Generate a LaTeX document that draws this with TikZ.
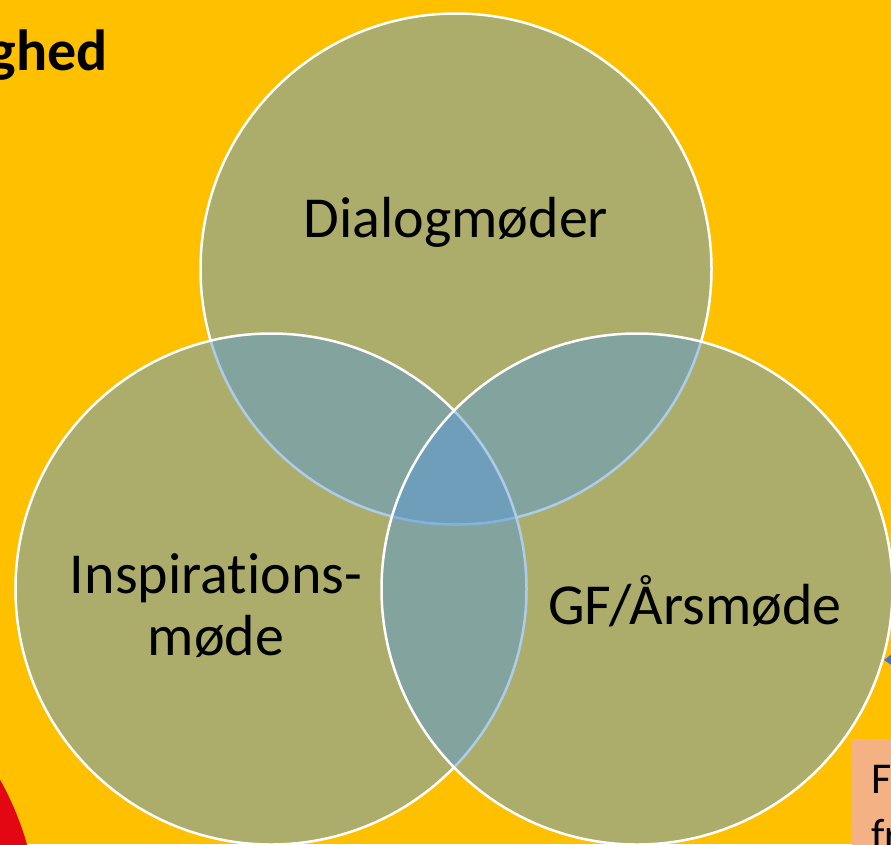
\documentclass[tikz,border=0pt]{standalone}
\usepackage{fontspec}
\setmainfont[Ligatures={TeX,NoCommon}]{Carlito}
\definecolor{bgyellow}{HTML}{FFC000}
\definecolor{vennblue}{HTML}{5B9BD5}
\definecolor{redshape}{HTML}{E30613}
\definecolor{salmon}{HTML}{F4B183}
\definecolor{arrowblue}{HTML}{4472C4}
\tikzset{
  venn/.style={circle, inner sep=0pt, minimum size=511pt, fill=vennblue, fill opacity=0.5, draw=white, draw opacity=1, line width=2.5pt},
  lbl/.style={inner sep=0pt, font=\fontsize{58}{62}\selectfont, align=center, text=black},
  boxtext/.style={inner sep=0pt, anchor=base west, font=\fontsize{44}{56}\selectfont, text=black}
}
\begin{document}
\begin{tikzpicture}[x=1pt,y=-1pt]
\useasboundingbox (0,0) rectangle (891,844);
\clip (0,0) rectangle (891,844);
\fill[bgyellow] (0,0) rectangle (891,844);
% red shape bottom-left
\fill[redshape] (-270,930) circle[radius=309];
% salmon box bottom-right
\node[fill=salmon, inner sep=0pt, minimum width=60pt, minimum height=120pt, anchor=north west] (box) at (852,739) {};
\node[boxtext] (boxF) at (871,793) {F};
\node[boxtext] (boxfr) at (871,849) {fr};
% title fragment
\node[inner sep=0pt, anchor=base east, font=\fontsize{58}{62}\selectfont\bfseries] (title) at (108,70) {ghed};
% venn circles
\node[venn] (top) at (456,269) {};
\node[venn] (left) at (271,589) {};
\node[venn] (right) at (637,589) {};
% arrow tip at right edge
\fill[arrowblue] (884,660) -- (893,653) -- (893,666) -- cycle;
% labels
\node[lbl, anchor=base] (ltop) at (456,237) {Dialogmøder};
\node[lbl, anchor=base] (lleft) at (216,655) {Inspirations-\\møde};
\node[lbl, anchor=base] (lright) at (695,624) {GF/Årsmøde};
\end{tikzpicture}
\end{document}
